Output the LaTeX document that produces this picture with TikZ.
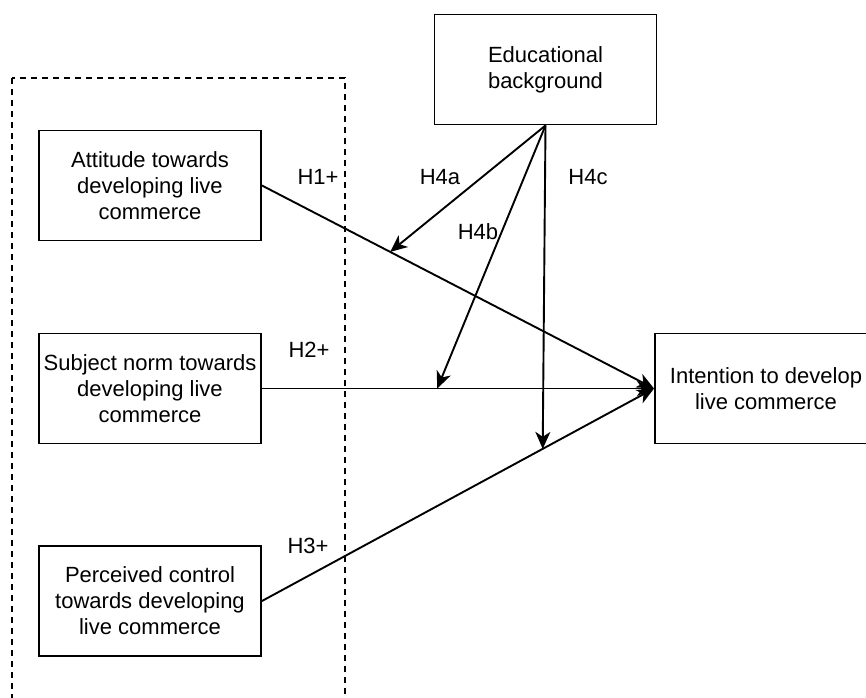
\documentclass[tikz,border=0pt]{standalone}
\usepackage{fontspec}
\setmainfont{Liberation Sans}
\usepackage{tikz}
\usetikzlibrary{arrows.meta}
\usetikzlibrary{positioning}
\tikzset{every node/.style={font=\fontsize{22}{26}\selectfont}}
\tikzset{varbox/.style={shape=rectangle,draw=black,line width=1.9pt,minimum width=222pt,minimum height=110pt,align=center,inner sep=0pt}}
\tikzset{hyp/.style={-{Stealth[length=17pt,width=15pt,inset=5pt]},line width=1.9pt}}

\begin{document}
\begin{tikzpicture}[x=1pt,y=-1pt]
		\useasboundingbox (0,0) rectangle (866,697);
		\clip (0,0) rectangle (866,697);
		\draw[line width=1.8pt,dash pattern=on 6pt off 5pt] (12,78) rectangle (345,720);
		\node[varbox] (E) at (545.5,69.5) {Educational\\background};
		\node[varbox] (A) at (150,185.5) {Attitude towards\\developing live\\commerce};
		\node[varbox] (S) at (150,388.5) {Subject norm towards\\developing live\\commerce};
		\node[varbox] (P) at (150,601) {Perceived control\\towards developing\\live commerce};
		\node[varbox] (I) at (766,388.5) {Intention to develop\\live commerce};
		\path (A.east) -- (I.west) coordinate[pos=0.327] (a4);
		\path (S.east) -- (I.west) coordinate[pos=0.447] (b4);
		\path (P.east) -- (I.west) coordinate[pos=0.716] (c4);
		\path [hyp] (A.east) edge (I.west);
		\path [hyp] (S.east) edge (I.west);
		\path [hyp] (P.east) edge (I.west);
		\path [hyp] (E.south) edge (a4);
		\path [hyp] (E.south) edge (b4);
		\path [hyp] (E.south) edge (c4);
		\node (h1) at (318,177) {H1+};
		\node (h2) at (309,350) {H2+};
		\node (h3) at (308,546) {H3+};
		\node (h4a) at (440,177) {H4a};
		\node (h4b) at (478,232) {H4b};
		\node (h4c) at (588,177) {H4c};
	\end{tikzpicture}
\end{document}
